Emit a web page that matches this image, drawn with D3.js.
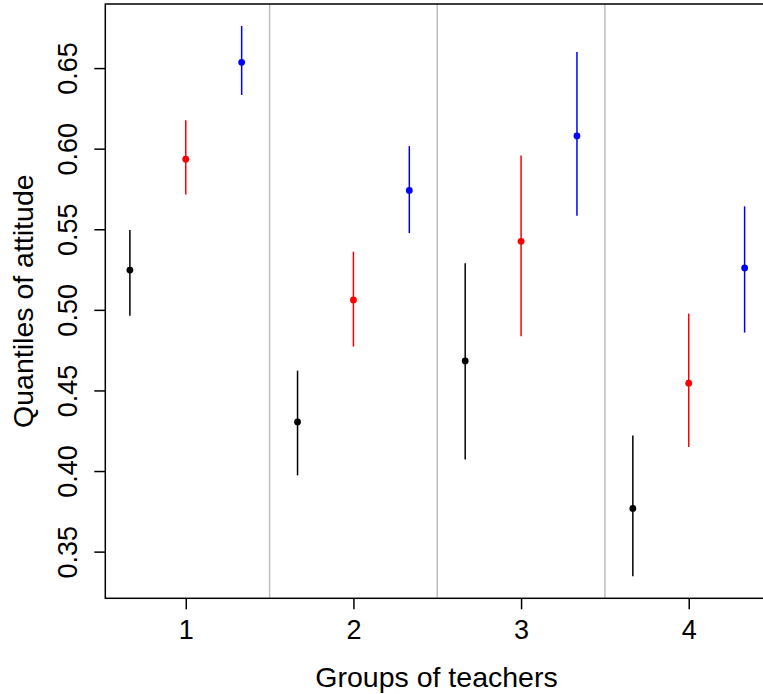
<!DOCTYPE html>
<html>
<head>
<meta charset="utf-8">
<script src="https://cdn.jsdelivr.net/npm/d3@7"></script>
<style>
  html, body { margin: 0; padding: 0; background: #fff; }
  svg { display: block; font-family: "Liberation Sans", Arial, Helvetica, sans-serif; }
</style>
</head>
<body>
<div id="chart"></div>
<script>
// groups of teachers, and the three series drawn at offsets -1/3, 0, +1/3
const groups = [1, 2, 3, 4];
const seriesColors = ["#000000", "#ff0000", "#0000ff"];
const seriesOffsets = [-1 / 3, 0, 1 / 3];

// point estimates per series (rows) and group (columns)
const mid = [
    [0.5247, 0.4305, 0.4683, 0.3768],
    [0.5935, 0.5061, 0.5425, 0.4545],
    [0.6536, 0.5741, 0.6079, 0.5260]
];
const lower = [
    [0.4964, 0.3973, 0.4072, 0.3347],
    [0.5716, 0.4772, 0.4836, 0.4149],
    [0.6333, 0.5476, 0.5584, 0.4859]
];
const upper = [
    [0.5495, 0.4623, 0.5289, 0.4221],
    [0.6177, 0.5361, 0.5958, 0.4977],
    [0.6761, 0.6016, 0.6600, 0.5642]
];

const yTicks = [0.35, 0.40, 0.45, 0.50, 0.55, 0.60, 0.65];
const separators = [1.5, 2.5, 3.5];
const xTitle = "Groups of teachers";
const yTitle = "Quantiles of attitude";

const width = 763, height = 694;
const plot = { left: 105.3, right: 769.2, top: 4, bottom: 598.3 };

// flatten into one record per interval
const rows = [];
mid.forEach((s, si) => s.forEach((v, gi) => {
    rows.push({
        x: groups[gi] + seriesOffsets[si],
        mid: v,
        lo: lower[si][gi],
        hi: upper[si][gi],
        color: seriesColors[si]
    });
}));

// R style 4% axis expansion
function expand(ext) {
    const pad = (ext[1] - ext[0]) * 0.04;
    return [ext[0] - pad, ext[1] + pad];
}

const x = d3.scaleLinear()
    .domain(expand(d3.extent(rows, d => d.x)))
    .range([plot.left, plot.right]);

const y = d3.scaleLinear()
    .domain(expand([d3.min(rows, d => d.lo), d3.max(rows, d => d.hi)]))
    .range([plot.bottom, plot.top]);

const svg = d3.select("#chart")
    .append("svg")
    .attr("width", width)
    .attr("height", height);

// group separators
svg.append("g")
    .selectAll("line")
    .data(separators)
    .enter()
    .append("line")
    .attr("x1", d => x(d))
    .attr("x2", d => x(d))
    .attr("y1", plot.top)
    .attr("y2", plot.bottom)
    .attr("stroke", "#bebebe")
    .attr("stroke-width", 1.5);

// intervals
svg.append("g")
    .selectAll("line")
    .data(rows)
    .enter()
    .append("line")
    .attr("x1", d => x(d.x))
    .attr("x2", d => x(d.x))
    .attr("y1", d => y(d.lo))
    .attr("y2", d => y(d.hi))
    .attr("stroke", d => d.color)
    .attr("stroke-width", 1.5);

// point estimates
svg.append("g")
    .selectAll("circle")
    .data(rows)
    .enter()
    .append("circle")
    .attr("cx", d => x(d.x))
    .attr("cy", d => y(d.mid))
    .attr("r", 3.4)
    .attr("fill", d => d.color);

// box
svg.append("rect")
    .attr("x", plot.left)
    .attr("y", plot.top)
    .attr("width", plot.right - plot.left)
    .attr("height", plot.bottom - plot.top)
    .attr("fill", "none")
    .attr("stroke", "#000")
    .attr("stroke-width", 1.5);

// x axis
const xAxis = svg.append("g")
    .attr("transform", `translate(0, ${plot.bottom})`)
    .call(d3.axisBottom(x).tickValues(groups).tickFormat(d3.format("d")).tickSize(11).tickPadding(10));
xAxis.select(".domain").remove();
xAxis.selectAll("line").attr("stroke-width", 1.5);
xAxis.selectAll("text")
    .attr("dy", null)
    .attr("y", 41)
    .style("font-size", "27px")
    .style("font-family", "\"Liberation Sans\", Arial, sans-serif")
    .attr("fill", "#000");

// y axis, labels rotated as in R
const yAxis = svg.append("g")
    .attr("transform", `translate(${plot.left}, 0)`)
    .call(d3.axisLeft(y).tickValues(yTicks).tickFormat(d3.format(".2f")).tickSize(11));
yAxis.select(".domain").remove();
yAxis.selectAll("line").attr("stroke-width", 1.5);
yAxis.selectAll("text")
    .attr("x", null)
    .attr("dy", null)
    .attr("text-anchor", "middle")
    .attr("transform", "translate(-28, 0) rotate(-90)")
    .style("font-size", "27px")
    .style("font-family", "\"Liberation Sans\", Arial, sans-serif")
    .attr("fill", "#000");

// axis titles
svg.append("text")
    .attr("x", 436.5)
    .attr("y", 687)
    .attr("text-anchor", "middle")
    .style("font-size", "28.5px")
    .text(xTitle);

svg.append("text")
    .attr("transform", `translate(33, ${(plot.top + plot.bottom) / 2}) rotate(-90)`)
    .attr("text-anchor", "middle")
    .style("font-size", "28.5px")
    .text(yTitle);
</script>
</body>
</html>
